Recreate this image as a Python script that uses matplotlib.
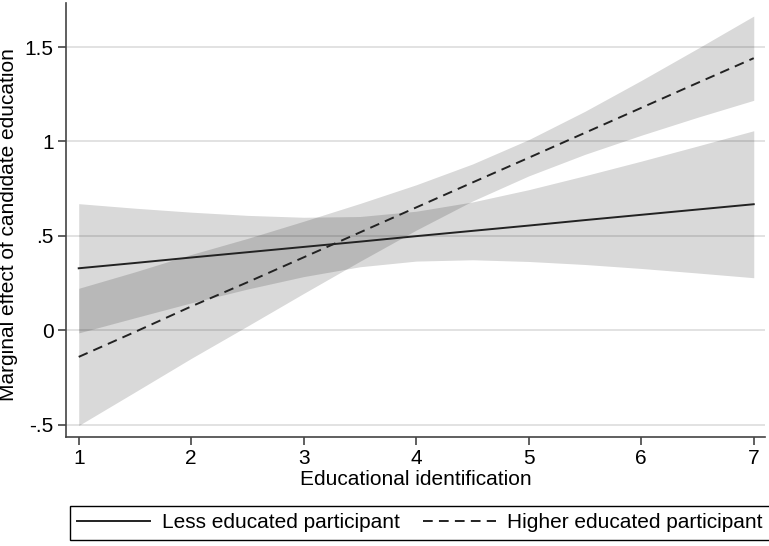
import numpy as np
import matplotlib
matplotlib.use('Agg')
import matplotlib.pyplot as plt

plt.rcParams['font.family'] = ['Liberation Sans', 'DejaVu Sans']

# values
x = [1, 1.5, 2, 2.5, 3, 3.5, 4, 4.5, 5, 5.5, 6, 6.5, 7]
less_me = [0.329, 0.357, 0.386, 0.414, 0.442, 0.470, 0.499, 0.527, 0.555, 0.584, 0.612, 0.640, 0.668]
less_hi = [0.671, 0.647, 0.626, 0.609, 0.599, 0.603, 0.631, 0.680, 0.745, 0.819, 0.896, 0.976, 1.057]
less_lo = [-0.013, 0.067, 0.146, 0.219, 0.285, 0.337, 0.367, 0.374, 0.365, 0.349, 0.328, 0.304, 0.279]
high_me = [-0.140, -0.008, 0.127, 0.255, 0.387, 0.519, 0.651, 0.783, 0.914, 1.046, 1.178, 1.310, 1.441]
high_hi = [0.223, 0.310, 0.402, 0.487, 0.578, 0.672, 0.771, 0.881, 1.010, 1.160, 1.323, 1.492, 1.664]
high_lo = [-0.503, -0.326, -0.148, 0.023, 0.196, 0.366, 0.531, 0.685, 0.818, 0.932, 1.033, 1.128, 1.218]

yticks = [-0.5, 0, 0.5, 1, 1.5]
ylabels = ['-.5', '0', '.5', '1', '1.5']

fig = plt.figure(figsize=(7.69, 5.46), dpi=100)
ax = fig.add_axes([66/769, 1-437/546, (765-66)/769, 434/546])

ax.fill_between(x, less_lo, less_hi, color='black', alpha=0.15, lw=0, zorder=2)
ax.fill_between(x, high_lo, high_hi, color='black', alpha=0.15, lw=0, zorder=2)
ax.plot(x, less_me, color='#222222', lw=1.4, zorder=3, label='Less educated participant')
ax.plot(x, high_me, color='#222222', lw=1.4, ls=(0, (5.0, 3.2)), zorder=3,
        label='Higher educated participant')

ax.set_xlim(0.887, 7.10)
ax.set_ylim(-0.564, 1.733)
ax.set_xticks(range(1, 8))
ax.set_yticks(yticks)
ax.set_yticklabels(ylabels)
ax.grid(axis='y', color='#dddddd', lw=1.2, zorder=1)
ax.set_axisbelow(True)
for s in ['top', 'right']:
    ax.spines[s].set_visible(False)
for s in ['left', 'bottom']:
    ax.spines[s].set_color('#444444')
    ax.spines[s].set_linewidth(1.2)
ax.tick_params(direction='out', length=6, width=1.2, color='#444444', labelsize=15, pad=3)
ax.set_xlabel('Educational identification', fontsize=15, labelpad=1)
ax.set_ylabel('Marginal effect of candidate education', fontsize=15)
ax.yaxis.set_label_coords(-0.068, 0.49)

leg = fig.legend(loc='center', bbox_to_anchor=(420/769, 1-523/546), ncol=2, fontsize=15,
                 handlelength=3.5, handletextpad=0.55, columnspacing=1.1,
                 fancybox=False, edgecolor='black', framealpha=1, borderpad=0.35)
leg.get_frame().set_linewidth(1.0)

plt.savefig('out.png', dpi=100)
